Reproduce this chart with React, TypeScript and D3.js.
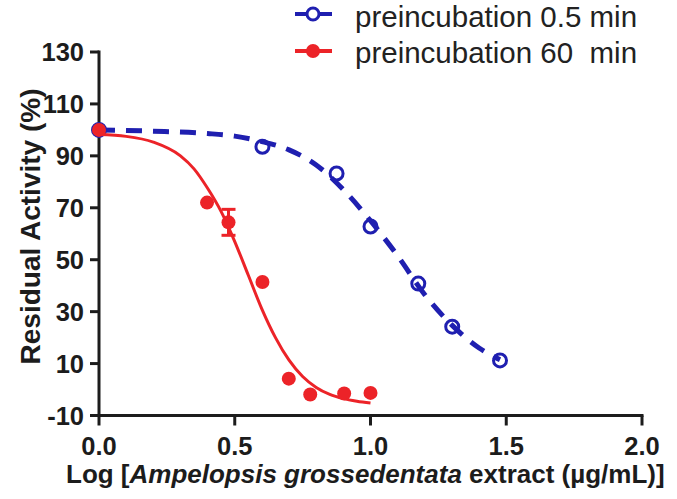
import React from "react";
import * as d3 from "d3";

// Measured points
const blueX = [0, 0.602, 0.875, 1.0, 1.176, 1.301, 1.477];
const blueY = [100, 93.5, 83.2, 62.8, 40.8, 24.2, 11.2];
const redX = [0, 0.398, 0.477, 0.602, 0.699, 0.778, 0.903, 1.0];
const redY = [100, 72, 64.4, 41.4, 4.2, -1.9, -1.5, -1.3];
const redErr = [0, 0, 5, 0, 0, 0, 0, 0];

// Fitted curves
const blueFitX = [0, 0.2, 0.4, 0.5, 0.6, 0.7, 0.8, 0.9, 1.0, 1.1, 1.2, 1.3, 1.4, 1.477];
const blueFitY = [100, 99.5, 98.6, 97.6, 95.5, 92.3, 86.5, 77, 65, 51.5, 36.5, 24.8, 16, 11.5];
const redFitX = [0, 0.1, 0.2, 0.3, 0.35, 0.4, 0.45, 0.5, 0.55, 0.6, 0.65, 0.7, 0.75, 0.8, 0.85, 0.9, 0.95, 1.0];
const redFitY = [98.2, 97.5, 95.3, 90, 85, 77.5, 68.5, 57, 44, 31, 20, 11.3, 5, 0.8, -1.9, -3.5, -4.5, -5.2];

const xTicks = [0, 0.5, 1.0, 1.5, 2.0];
const yTicks = [-10, 10, 30, 50, 70, 90, 110, 130];
const seriesNames = ["preincubation 0.5 min", "preincubation 60\u00a0 min"];

const W = 677, H = 499;
const BLUE = "#1f1fb0";
const RED = "#ec2328";
const INK = "#1c1c1c";
const FONT = "'Liberation Sans', Arial, Helvetica, sans-serif";

export default function App() {
  const x = d3.scaleLinear().domain([0, 2]).range([99, 642]);
  const y = d3.scaleLinear().domain([-10, 130]).range([415.5, 52]);

  const line = d3
    .line<[number, number]>()
    .x((d) => x(d[0]))
    .y((d) => y(d[1]))
    .curve(d3.curveMonotoneX);

  const bluePath = line(blueFitX.map((v, i) => [v, blueFitY[i]]) as [number, number][]) || "";
  const redPath = line(redFitX.map((v, i) => [v, redFitY[i]]) as [number, number][]) || "";

  return (
    <div style={{ position: "absolute", left: 0, top: 0 }}>
      <svg width={W} height={H} viewBox={`0 0 ${W} ${H}`} style={{ display: "block", background: "#fff" }}>
        <rect width={W} height={H} fill="#fff" />
        {/* Axes */}
        <g stroke={INK} strokeWidth={3} fill="none">
          <line x1={x(0)} y1={y(130) - 1.5} x2={x(0)} y2={y(-10) + 1.5} />
          <line x1={x(0) - 1.5} y1={y(-10)} x2={x(2) + 1.5} y2={y(-10)} />
          {yTicks.map((t) => (
            <line key={"yt" + t} x1={x(0) - 9} x2={x(0)} y1={y(t)} y2={y(t)} />
          ))}
          {xTicks.map((t) => (
            <line key={"xt" + t} x1={x(t)} x2={x(t)} y1={y(-10)} y2={y(-10) + 10} />
          ))}
        </g>
        <g fontFamily={FONT} fontWeight="bold" fontSize={25.5} fill={INK}>
          {yTicks.map((t) => (
            <text key={"yl" + t} x={x(0) - 15} y={y(t)} dy="0.36em" textAnchor="end">
              {t}
            </text>
          ))}
          {xTicks.map((t) => (
            <text key={"xl" + t} x={x(t)} y={455} textAnchor="middle">
              {t.toFixed(1)}
            </text>
          ))}
        </g>
        <text
          fontFamily={FONT}
          fontWeight="bold"
          fontSize={28}
          fill={INK}
          textAnchor="middle"
          transform={`translate(40,226.5) rotate(-90)`}
        >
          Residual Activity (%)
        </text>
        <text fontFamily={FONT} fontWeight="bold" fontSize={26} fill={INK} x={66} y={483}>
          Log [<tspan fontStyle="italic">Ampelopsis grossedentata</tspan> extract (µg/mL)]
        </text>

        {/* Blue series */}
        <path d={bluePath} fill="none" stroke={BLUE} strokeWidth={5} strokeDasharray="16 11" />
        {blueX.map((v, i) => (
          <circle key={"b" + i} cx={x(v)} cy={y(blueY[i])} r={6.5} fill="none" stroke={BLUE} strokeWidth={3} />
        ))}

        {/* Red series */}
        <path d={redPath} fill="none" stroke={RED} strokeWidth={3} />
        {redX.map((v, i) =>
          redErr[i] > 0 ? (
            <g key={"e" + i} stroke={RED} strokeWidth={3}>
              <line x1={x(v)} x2={x(v)} y1={y(redY[i] + redErr[i])} y2={y(redY[i] - redErr[i])} />
              <line x1={x(v) - 7} x2={x(v) + 7} y1={y(redY[i] + redErr[i])} y2={y(redY[i] + redErr[i])} />
              <line x1={x(v) - 7} x2={x(v) + 7} y1={y(redY[i] - redErr[i])} y2={y(redY[i] - redErr[i])} />
            </g>
          ) : null
        )}
        {redX.map((v, i) => (
          <circle key={"r" + i} cx={x(v)} cy={y(redY[i])} r={7} fill={RED} />
        ))}

        {/* Legend */}
        <g>
          <line x1={295} x2={332} y1={14} y2={14} stroke={BLUE} strokeWidth={4} />
          <circle cx={313} cy={14} r={6} fill="#fff" stroke={BLUE} strokeWidth={3} />
          <line x1={295} x2={332} y1={51} y2={51} stroke={RED} strokeWidth={4} />
          <circle cx={313} cy={51} r={7} fill={RED} />
          <g fontFamily={FONT} fontSize={29.5} fill="#222">
            <text x={355} y={27}>{seriesNames[0]}</text>
            <text x={355} y={63}>{seriesNames[1]}</text>
          </g>
        </g>
      </svg>
    </div>
  );
}
